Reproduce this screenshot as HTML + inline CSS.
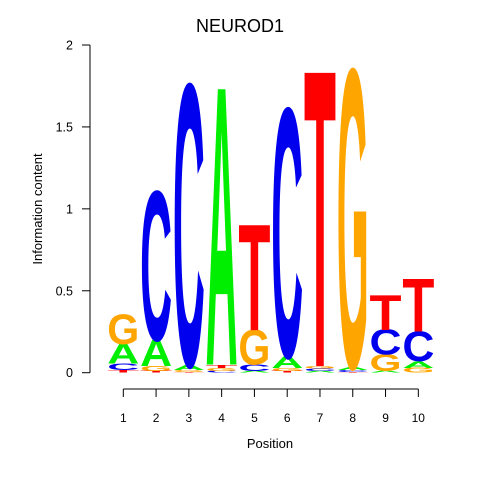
<!DOCTYPE html>
<html><head><meta charset="utf-8"><style>body{margin:0;background:#fff}svg{display:block}text{font-family:"Liberation Sans",sans-serif}</style></head>
<body>
<svg id="chart" width="480" height="480" viewBox="0 0 480 480">
<text x="240" y="32" font-size="18" text-anchor="middle">NEUROD1</text>
<text transform="translate(42,209) rotate(-90)" font-size="13" text-anchor="middle">Information content</text>
<text x="270" y="448" font-size="13" text-anchor="middle">Position</text>
<g id="axes"></g>
<g id="logo"></g>
</svg>
<script>
const positions = [1,2,3,4,5,6,7,8,9,10];
const heightA = [0.12,0.16,0.03,1.68,0.01,0.07,0.01,0.02,0.01,0.04];
const heightC = [0.04,0.90,1.70,0.01,0.04,1.50,0.015,0.01,0.15,0.18];
const heightG = [0.18,0.03,0.01,0.02,0.21,0.02,0.015,1.80,0.10,0.03];
const heightT = [0.015,0.01,0.005,0.02,0.64,0.01,1.79,0.005,0.21,0.32];
const yTicks = [0,0.5,1,1.5,2];
const yTickLabels = ["0","0.5","1","1.5","2"];

const NS="http://www.w3.org/2000/svg";
const x0=123.3, dx=32.78, y0=372.7, yScale=(372.7-45)/2, colW=32;
const xPos=p=>x0+(p-1)*dx;
const yPos=v=>y0-v*yScale;
const colors={A:"#00ee00",C:"#0000ee",G:"#ffa500",T:"#ff0000"};
const axes=document.getElementById('axes');
const logo=document.getElementById('logo');
function mk(tag,attrs,parent){const e=document.createElementNS(NS,tag);for(const k in attrs)e.setAttribute(k,attrs[k]);parent.appendChild(e);return e;}

const yl=mk('line',{x1:90,x2:90,y1:yPos(2),y2:yPos(0),stroke:'#000'},axes);


yTicks.forEach((v,i)=>{
  const t=mk('line',{x1:82,x2:90,y1:yPos(v),y2:yPos(v),stroke:'#000'},axes);
  
  
  const l=mk('text',{x:73,y:yPos(v)+4.5,'font-size':12.5,'text-anchor':'end'},axes);
  
  
  l.textContent=yTickLabels[i];
});
const xl=mk('line',{x1:xPos(1),x2:xPos(10),y1:389,y2:389,stroke:'#000'},axes);


positions.forEach(p=>{
  const t=mk('line',{x1:xPos(p),x2:xPos(p),y1:389,y2:397,stroke:'#000'},axes);
  
  
  const l=mk('text',{x:xPos(p),y:422,'font-size':12,'text-anchor':'middle'},axes);
  
  
  l.textContent=p;
});
const CAP=68.8;
positions.forEach((p,i)=>{
  const letters=[['A',heightA[i]],['C',heightC[i]],['G',heightG[i]],['T',heightT[i]]].sort((a,b)=>a[1]-b[1]);
  let base=0;
  letters.forEach(([b,h])=>{
    if(h>0){
      const yb=yPos(base), hp=h*yScale;
      const g=mk('g',{transform:`translate(${xPos(p)-colW/2},${yb}) scale(1,${hp/CAP})`},logo);
      const t=mk('text',{x:0,y:0,'font-size':100,'font-weight':'bold',fill:colors[b],textLength:colW,lengthAdjust:'spacingAndGlyphs'},g);
      
      
      t.textContent=b;
    }
    base+=h;
  });
});
</script>
</body></html>
